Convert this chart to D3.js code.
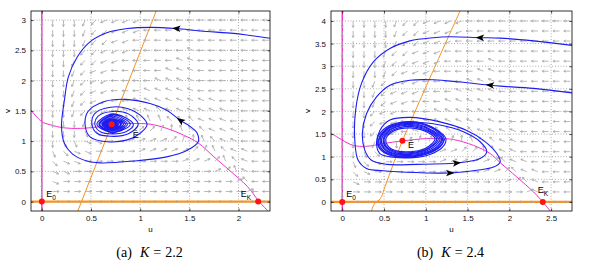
<!DOCTYPE html>
<html>
<head>
<meta charset="utf-8">
<script src="https://cdn.jsdelivr.net/npm/d3@7"></script>
<style>
body { margin: 0; background: #fff; }
svg { display: block; }
.tick text { font-family: "Liberation Sans", Arial, sans-serif; font-size: 8px; fill: #111; }
.cap { font-family: "Liberation Serif", "Times New Roman", serif; font-size: 14px; white-space: pre; }
</style>
</head>
<body>
<svg id="fig" width="589" height="268"></svg>
<script>
// ---------- panel (a): K = 2.2 ----------
var captionA = "(a)";
var kA = "2.2";
var xTicksA = [0, 0.5, 1, 1.5, 2];
var yTicksA = [0, 0.5, 1, 1.5, 2, 2.5, 3];
var xDomainA = [-0.11, 2.32];
var yDomainA = [-0.155, 3.15];
// u-nullcline (magenta) and v-nullcline (orange)
var uNullA = [[-0.11,1.51],[0,1.32],[0.085,1.27],[0.22,1.22],[0.39,1.21],[0.59,1.24],[0.71,1.28],[0.93,1.29],[1.10,1.28],[1.27,1.21],[1.44,1.10],[1.59,0.97],[1.75,0.74],[1.92,0.50],[2.09,0.25],[2.21,0],[2.30,-0.155]];
var vNullA = [[0.366,-0.155],[1.163,3.15]];
var trajA = [[2.32,2.70],[2.10,2.75],[1.95,2.78],[1.61,2.82],[1.37,2.86],[1.10,2.88],[0.87,2.86],[0.66,2.79],[0.49,2.64],[0.36,2.39],[0.27,2.06],[0.23,1.68],[0.20,1.24],[0.23,0.96],[0.31,0.79],[0.46,0.67],[0.59,0.64],[0.93,0.67],[1.27,0.74],[1.48,0.85],[1.59,0.99],[1.58,1.13],[1.51,1.24],[1.41,1.34],[1.27,1.51],[1.10,1.62],[0.85,1.69],[0.63,1.65],[0.47,1.49],[0.44,1.27],[0.49,1.07],[0.66,0.99],[0.87,1.02],[1.00,1.13],[1.07,1.27],[1.02,1.40],[0.87,1.54],[0.70,1.56],[0.54,1.46],[0.51,1.27],[0.56,1.13],[0.70,1.08],[0.88,1.12],[0.98,1.28],[0.88,1.45],[0.72,1.49],[0.57,1.41],[0.54,1.27],[0.60,1.15],[0.72,1.12],[0.86,1.16],
  [0.93,1.28],[0.72,1.45],[0.56,1.28],[0.72,1.14],
  [0.90,1.28],[0.72,1.43],[0.58,1.28],[0.72,1.15],
  [0.87,1.28],[0.72,1.41],[0.59,1.28],[0.72,1.17],
  [0.85,1.28],[0.72,1.39],[0.61,1.28],[0.72,1.18],
  [0.83,1.28],[0.72,1.37],[0.62,1.28],[0.72,1.19],
  [0.81,1.28],[0.72,1.36],[0.63,1.28],[0.72,1.20],
  [0.80,1.28],[0.72,1.35],[0.64,1.28],[0.72,1.21],
  [0.78,1.28],[0.72,1.34],[0.65,1.28],[0.72,1.22],
  [0.77,1.28],[0.72,1.33],[0.66,1.28],[0.72,1.23],
  [0.76,1.28],[0.72,1.32],[0.67,1.28],[0.72,1.24],
  [0.75,1.28],[0.72,1.31],[0.68,1.28],[0.72,1.25],
  [0.74,1.28],[0.72,1.30],[0.69,1.28],[0.72,1.26],[0.73,1.28]];
var cyclesA = [];
// E0, EK, E-bar
var eqA = [[0,0],[2.2,0],[0.71,1.28]];
// arrowheads on trajectories: u, v, direction (deg)
var headsA = [[1.37,2.86,176],[1.41,1.34,145]];
// direction field grid and arrow directions (a=0deg, each letter +22.5deg, '.' = none)
var fieldUA = [0,0.11,0.22,0.33,0.44,0.55,0.66,0.77,0.88,0.99,1.1,1.21,1.32,1.43,1.54,1.65,1.76,1.87,1.98,2.09,2.2,2.31];
var fieldVA = [0,0.167,0.333,0.5,0.667,0.833,1,1.167,1.333,1.5,1.667,1.833,2,2.167,2.333,2.5,2.667,2.833,3];
var fieldA = [
  ".aaaaaaaaaaaaaaaaaaa.i",
  "maaaaaaaaaaaaaaaaaabii",
  "mpaaaaaaaaaaaaaaaabgii",
  "mppaaaaaaaaaaaaabcfhii",
  "moppaaaaaaaaabbbcfghii",
  "mnoppaaaabbbbbcdfghhii",
  "mmnnppaabbbbcdefghhiii",
  "mmmmnoabcccdefgghhhiii",
  "mmmmlkjhffffggghhhiiii",
  "mmmlkjjihhhghhhhhhiiii",
  "mmmlkjjiihhhhhhhhiiiii",
  "mmmlkjjiiihhhhhiiiiiii",
  "mmmlkjjiiiihhhhiiiiiii",
  "mmmlkjjiiiiihhhiiiiiii",
  "mmmlkkjjiiiiihhiiiiiii",
  "mmmmkkjjjiiiiihiiiiiii",
  "mmmmlkkjjiiiiiiiiiiiii",
  "mmmmlkkjjjiiiiiiiiiiii",
  "mmmmlkjjjjiiiiiiiiiiii"
];

// ---------- panel (b): K = 2.4 ----------
var captionB = "(b)";
var kB = "2.4";
var xTicksB = [0, 0.5, 1, 1.5, 2, 2.5];
var yTicksB = [0, 0.5, 1, 1.5, 2, 2.5, 3, 3.5, 4];
var xDomainB = [-0.135, 2.75];
var yDomainB = [-0.2, 4.22];
var uNullB = [[-0.135,1.52],[-0.01,1.38],[0.13,1.25],[0.29,1.23],[0.49,1.29],[0.72,1.35],[1.01,1.40],[1.17,1.40],[1.33,1.38],[1.57,1.25],[1.77,1.07],[1.89,0.87],[2.09,0.55],[2.29,0.22],[2.40,0],[2.49,-0.2]];
var vNullB = [[0.35,-0.2],[0.375,-0.07],[0.40,-0.01],[0.44,0.04],[0.47,0.12],[0.51,0.33],[0.72,1.35],[1.41,4.22]];
var trajB1 = [[2.75,3.46],[2.29,3.56],[1.89,3.62],[1.65,3.63],[1.29,3.65],[1.09,3.63],[0.81,3.56],[0.57,3.39],[0.37,3.09],[0.23,2.62],[0.16,2.03],[0.15,1.36],[0.19,0.92],[0.29,0.74],[0.49,0.69],[0.89,0.65],[1.29,0.64],[1.61,0.70],[1.81,0.77],[1.89,0.88],[1.85,1.07],[1.69,1.36],[1.49,1.58],[1.17,1.77],[0.81,1.87],[0.57,1.81],[0.45,1.58],[0.41,1.29],[0.45,1.07],[0.61,0.99],[0.85,0.98],[1.05,1.05],[1.20,1.21],[1.24,1.40],[1.12,1.61],[0.90,1.75],[0.70,1.75]];
var trajB2 = [[2.75,2.41],[2.29,2.51],[1.89,2.56],[1.77,2.58],[1.41,2.65],[1.09,2.70],[0.81,2.69],[0.57,2.58],[0.41,2.32],[0.29,1.95],[0.24,1.51],[0.27,1.14],[0.35,0.92],[0.53,0.83],[0.89,0.83],[1.37,0.86],[1.65,0.96],[1.73,1.11],[1.65,1.33],[1.45,1.55],[1.17,1.70],[0.85,1.76],[0.61,1.69],[0.47,1.49],[0.43,1.28],[0.50,1.10],[0.66,1.01],[0.87,1.01],[1.06,1.10],[1.19,1.26],[1.22,1.40]];
// limit cycle band (closed loops)
var cyclesB = [
  [[1.22,1.40],[1.11,1.61],[0.90,1.76],[0.70,1.76],[0.52,1.64],[0.42,1.40],[0.45,1.17],[0.59,1.02],[0.82,0.99],[1.03,1.07],[1.17,1.22]],
  [[1.20,1.40],[1.10,1.60],[0.90,1.74],[0.70,1.74],[0.53,1.62],[0.44,1.40],[0.47,1.18],[0.60,1.04],[0.82,1.01],[1.02,1.09],[1.15,1.23]],
  [[1.19,1.40],[1.08,1.58],[0.89,1.72],[0.70,1.72],[0.54,1.60],[0.455,1.39],[0.49,1.19],[0.61,1.06],[0.82,1.03],[1.01,1.10],[1.14,1.24]],
  [[1.17,1.40],[1.07,1.57],[0.88,1.70],[0.70,1.70],[0.55,1.58],[0.47,1.39],[0.50,1.20],[0.62,1.07],[0.82,1.05],[1.00,1.12],[1.12,1.25]],
  [[1.15,1.40],[1.05,1.56],[0.87,1.68],[0.70,1.68],[0.56,1.57],[0.49,1.38],[0.52,1.21],[0.63,1.09],[0.82,1.07],[0.99,1.14],[1.10,1.26]],
  [[1.13,1.40],[1.04,1.55],[0.86,1.66],[0.70,1.65],[0.57,1.55],[0.50,1.38],[0.53,1.22],[0.64,1.11],[0.82,1.09],[0.99,1.15],[1.09,1.27]],
  [[1.11,1.40],[1.02,1.54],[0.85,1.63],[0.70,1.62],[0.58,1.53],[0.52,1.38],[0.55,1.23],[0.65,1.13],[0.82,1.11],[0.98,1.17],[1.07,1.28]]
];
var eqB = [[0,0],[2.4,0],[0.72,1.35]];
var headsB = [[1.65,3.63,178],[1.77,2.58,175],[1.37,0.86,6],[1.29,0.64,1]];
var fieldUB = [0,0.13,0.26,0.39,0.52,0.65,0.78,0.91,1.04,1.17,1.3,1.43,1.56,1.69,1.82,1.95,2.08,2.21,2.34,2.47,2.6,2.73];
var fieldVB = [0,0.222,0.444,0.667,0.889,1.111,1.333,1.556,1.778,2,2.222,2.444,2.667,2.889,3.111,3.333,3.556,3.778,4];
var fieldB = [
  ".aaaaaaaaaaaaaaaaaaiii",
  "maaaaaaaaaaaaaaaabhiii",
  "mpaaaaaaaaaaaaabcghiii",
  "mopaaaaaaaaaabbcghhiii",
  "mnopaaaaabbbbbcghhiiii",
  "mmnopaabbbbccefhhiiiii",
  "mmmllmcddddefgghhiiiii",
  "mmmkjjihggggghhhhiiiii",
  "mmmkjjiihhhhhhhiiiiiii",
  "mmmkjjiiihhhhhhiiiiiii",
  "mmmlkjjiiihhhhhiiiiiii",
  "mmmlkjjjiiihhhhiiiiiii",
  "mmmlkkjjiiiihhhiiiiiii",
  "mmmmlkjjjiiiihhiiiiiii",
  "mmmmlkkjjjiiiihiiiiiii",
  "mmmmlkkjjjiiiiiiiiiiii",
  "mmmmmlkkjjjiiiiiiiiiii",
  "mmmmmlkkjjjjiiiiiiiiii",
  "mmmmmlkkjjjjiiiiiiiiii"
];

var BLUE = "#1d1df2", MAGENTA = "#f230cf", ORANGE = "#f7931e", GRAY = "#a8a8a8", RED = "#ff1414";
var codes = "abcdefghijklmnop";
var svg = d3.select("#fig");

function drawPanel(o) {
  var x = d3.scaleLinear().domain(o.xDomain).range([o.left, o.right]);
  var y = d3.scaleLinear().domain(o.yDomain).range([o.bottom, o.top]);
  var g = svg.append("g");

  svg.append("clipPath").attr("id", "clip" + o.id)
    .append("rect").attr("x", o.left).attr("y", o.top)
    .attr("width", o.right - o.left).attr("height", o.bottom - o.top);
  var plot = g.append("g").attr("clip-path", "url(#clip" + o.id + ")");

  // dotted grid
  plot.selectAll(".gx").data(o.xTicks).enter().append("line")
    .attr("x1", d => x(d)).attr("x2", d => x(d))
    .attr("y1", o.top).attr("y2", o.bottom)
    .attr("stroke", "#555").attr("stroke-width", 0.6).attr("stroke-dasharray", "0.8,2");
  plot.selectAll(".gy").data(o.yTicks).enter().append("line")
    .attr("y1", d => y(d)).attr("y2", d => y(d))
    .attr("x1", o.left).attr("x2", o.right)
    .attr("stroke", "#555").attr("stroke-width", 0.6).attr("stroke-dasharray", "0.8,2");

  // nullclines on the axes
  plot.append("line").attr("x1", x(0)).attr("x2", x(0))
    .attr("y1", y(o.yDomain[0])).attr("y2", y(o.yDomain[1]))
    .attr("stroke", MAGENTA).attr("stroke-width", 1.4);
  plot.append("line").attr("y1", y(0)).attr("y2", y(0))
    .attr("x1", x(o.xDomain[0])).attr("x2", x(o.xDomain[1]))
    .attr("stroke", ORANGE).attr("stroke-width", 2.2);

  var smooth = d3.line().x(d => x(d[0])).y(d => y(d[1])).curve(d3.curveCatmullRom.alpha(0.5));
  plot.append("path").attr("d", smooth(o.uNull)).attr("fill", "none")
    .attr("stroke", MAGENTA).attr("stroke-width", 1);
  plot.append("path").attr("d", smooth(o.vNull)).attr("fill", "none")
    .attr("stroke", ORANGE).attr("stroke-width", 1);

  // direction field
  var arrows = [];
  o.field.forEach(function (row, j) {
    row.split("").forEach(function (c, i) {
      var k = codes.indexOf(c);
      if (k < 0 || i >= o.fieldU.length) return;
      arrows.push({ u: o.fieldU[i], v: o.fieldV[j], a: k * 22.5 * Math.PI / 180 });
    });
  });
  var L = 6.5, H = 2.4, HA = 0.5;
  plot.selectAll(".qv").data(arrows).enter().append("path")
    .attr("d", function (d) {
      var x0 = x(d.u), y0 = y(d.v);
      var x1 = x0 + L * Math.cos(d.a), y1 = y0 - L * Math.sin(d.a);
      var b1 = d.a + Math.PI - HA, b2 = d.a + Math.PI + HA;
      return "M" + x0 + "," + y0 + "L" + x1 + "," + y1 +
        "M" + (x1 + H * Math.cos(b1)) + "," + (y1 - H * Math.sin(b1)) +
        "L" + x1 + "," + y1 +
        "L" + (x1 + H * Math.cos(b2)) + "," + (y1 - H * Math.sin(b2));
    })
    .attr("fill", "none").attr("stroke", GRAY).attr("stroke-width", 0.8);

  // trajectories
  o.trajs.forEach(function (t) {
    plot.append("path").attr("d", smooth(t)).attr("fill", "none")
      .attr("stroke", BLUE).attr("stroke-width", 1.1);
  });
  var closed = d3.line().x(d => x(d[0])).y(d => y(d[1])).curve(d3.curveCatmullRomClosed.alpha(0.5));
  o.cycles.forEach(function (c) {
    plot.append("path").attr("d", closed(c)).attr("fill", "none")
      .attr("stroke", BLUE).attr("stroke-width", 1.2);
  });

  // arrowheads
  plot.selectAll(".hd").data(o.heads).enter().append("path")
    .attr("d", "M4.5,0L-4,-3.3L-2,0L-4,3.3Z")
    .attr("transform", d => "translate(" + x(d[0]) + "," + y(d[1]) + ") rotate(" + (-d[2]) + ")")
    .attr("fill", "#000");

  // equilibria
  plot.selectAll(".eq").data(o.eq).enter().append("circle")
    .attr("cx", d => x(d[0])).attr("cy", d => y(d[1])).attr("r", 3)
    .attr("fill", RED);

  // equilibrium labels
  var lab = g.append("g").attr("font-family", "Liberation Sans, Arial, sans-serif").attr("fill", "#000");
  function eLabel(p, dx, dy, sub) {
    var t = lab.append("text").attr("x", x(p[0]) + dx).attr("y", y(p[1]) + dy).attr("font-size", 9);
    t.append("tspan").text(sub === null ? "\u0112" : "E");
    if (sub !== null) t.append("tspan").attr("font-size", 6.5).attr("dy", 3).text(sub);
  }
  eLabel(o.eq[0], o.lab0[0], o.lab0[1], "0");
  eLabel(o.eq[1], o.labK[0], o.labK[1], "K");
  eLabel(o.eq[2], o.labE[0], o.labE[1], null);

  // box
  g.append("rect").attr("x", o.left).attr("y", o.top)
    .attr("width", o.right - o.left).attr("height", o.bottom - o.top)
    .attr("fill", "none").attr("stroke", "#000").attr("stroke-width", 0.8);

  // axes with inward ticks
  var fmt = d3.format("~g");
  g.append("g").attr("transform", "translate(0," + o.bottom + ")")
    .call(d3.axisBottom(x).tickValues(o.xTicks).tickFormat(fmt).tickSizeInner(-2.5).tickSizeOuter(0).tickPadding(4.5))
    .call(a => a.select(".domain").remove());
  g.append("g").attr("transform", "translate(" + o.left + ",0)")
    .call(d3.axisLeft(y).tickValues(o.yTicks).tickFormat(fmt).tickSizeInner(-2.5).tickSizeOuter(0).tickPadding(5))
    .call(a => a.select(".domain").remove());
  g.append("g").attr("transform", "translate(0," + o.top + ")")
    .call(d3.axisTop(x).tickValues(o.xTicks).tickFormat("").tickSizeInner(-2.5).tickSizeOuter(0))
    .call(a => a.select(".domain").remove());
  g.append("g").attr("transform", "translate(" + o.right + ",0)")
    .call(d3.axisRight(y).tickValues(o.yTicks).tickFormat("").tickSizeInner(-2.5).tickSizeOuter(0))
    .call(a => a.select(".domain").remove());
  g.selectAll(".tick line").attr("stroke", "#000").attr("stroke-width", 0.7);

  // axis titles
  g.append("text").attr("x", (o.left + o.right) / 2).attr("y", o.bottom + 20.5)
    .attr("text-anchor", "middle").attr("font-family", "Liberation Sans, Arial, sans-serif")
    .attr("font-size", 8).text("u");
  g.append("text").attr("transform", "translate(" + (o.left - 21.5) + "," + ((o.top + o.bottom) / 2) + ") rotate(-90)")
    .attr("text-anchor", "middle").attr("font-family", "Liberation Sans, Arial, sans-serif")
    .attr("font-size", 8).text("v");

  // caption
  var cap = svg.append("text").attr("class", "cap")
    .attr("x", (o.left + o.right) / 2 - 1).attr("y", 256.5)
    .attr("text-anchor", "middle").attr("fill", "#000");
  cap.append("tspan").text(o.caption);
  cap.append("tspan").attr("dx", 8).attr("font-style", "italic").text("K");
  cap.append("tspan").attr("dx", 4).text("=");
  cap.append("tspan").attr("dx", 4).text(o.k);
}

drawPanel({
  id: "a", left: 31, right: 270, top: 11, bottom: 211,
  xDomain: xDomainA, yDomain: yDomainA, xTicks: xTicksA, yTicks: yTicksA,
  uNull: uNullA, vNull: vNullA, trajs: [trajA], cycles: cyclesA,
  eq: eqA, heads: headsA, fieldU: fieldUA, fieldV: fieldVA, field: fieldA,
  lab0: [4.5, -4.5], labK: [-17.5, -4.5], labE: [21, 13.5],
  caption: captionA, k: kA
});
drawPanel({
  id: "b", left: 331, right: 572, top: 11, bottom: 211,
  xDomain: xDomainB, yDomain: yDomainB, xTicks: xTicksB, yTicks: yTicksB,
  uNull: uNullB, vNull: vNullB, trajs: [trajB1, trajB2], cycles: cyclesB,
  eq: eqB, heads: headsB, fieldU: fieldUB, fieldV: fieldVB, field: fieldB,
  lab0: [4, -4.5], labK: [-5, -8.5], labE: [5.5, 7.5],
  caption: captionB, k: kB
});
</script>
</body>
</html>
